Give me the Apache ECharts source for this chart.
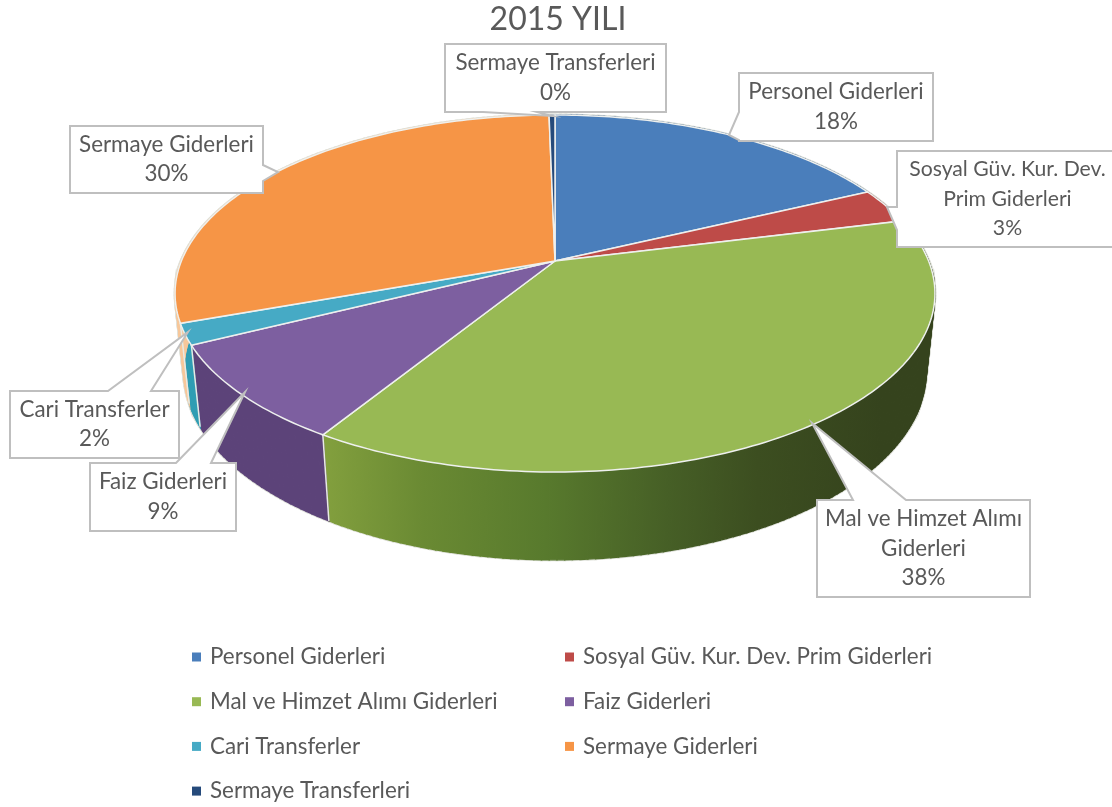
<!DOCTYPE html>
<html>
<head>
<meta charset="utf-8">
<title>2015 YILI</title>
<style>
  html, body { margin: 0; padding: 0; background: #fff; }
  #main { width: 1112px; height: 807px; }
</style>
<script src="https://cdn.jsdelivr.net/npm/echarts@6/dist/echarts.min.js"></script>
</head>
<body>
<div id="main"></div>
<script>
const categories = ['Personel Giderleri', 'Sosyal Güv. Kur. Dev. Prim Giderleri', 'Mal ve Himzet Alımı Giderleri', 'Faiz Giderleri', 'Cari Transferler', 'Sermaye Giderleri', 'Sermaye Transferleri']
const values = [17.9, 3.2, 37.7, 8.8, 1.9, 30.2, 0.3]
const labelNames = ['Personel Giderleri', 'Sosyal Güv. Kur. Dev.\nPrim Giderleri', 'Mal ve Himzet Alımı\nGiderleri', 'Faiz Giderleri', 'Cari Transferler', 'Sermaye Giderleri', 'Sermaye Transferleri']
const legendLeft = [categories[0], categories[2], categories[4], categories[6]]
const legendRight = [categories[1], categories[3], categories[5]]

const colors = ['#4a7ebb', '#be4b48', '#98b954', '#7d5fa0', '#46aac5', '#f69546', '#254a7b']
const wallStops = [
  [[0, '#2f5580'], [1, '#2f5580']],
  [[0, '#7a2f2d'], [1, '#7a2f2d']],
  [[0, '#83a03e'], [0.18, '#6a8a33'], [0.4, '#587a2d'], [0.62, '#465f26'], [0.78, '#3c4e20'], [1, '#35431d']],
  [[0, '#5c4379'], [0.5, '#654a87'], [1, '#5c4379']],
  [[0, '#2f9db3'], [1, '#1f8c99']],
  [[0, '#f7c79a'], [1, '#f7c79a']],
  [[0, '#1c3557'], [1, '#1c3557']]
]

// callout boxes: x, y, w, h and the wedge pointing at the slice
const boxes = [
  { x: 739, y: 73, w: 194, h: 68, wedge: [[739, 112], [729, 135], [739, 140]], side: 'left', size: 22.4 },
  { x: 897, y: 151, w: 221, h: 96, wedge: [[897, 207], [887, 207], [897, 230]], side: 'left', size: 21.2 },
  { x: 817, y: 500, w: 213, h: 97, wedge: [[853, 500], [812, 423], [906, 500]], side: 'top', size: 22.4 },
  { x: 90, y: 463, w: 146, h: 68, wedge: [[176, 463], [245, 392], [211, 463]], side: 'top', size: 22.4 },
  { x: 10, y: 391, w: 169, h: 67, wedge: [[108, 391], [188, 332], [151, 391]], side: 'top', size: 22.4 },
  { x: 70, y: 126, w: 193, h: 67, wedge: [[263, 165], [278, 172], [263, 181]], side: 'right', size: 22.4 },
  { x: 445, y: 44, w: 221, h: 68, wedge: [[483, 112], [552, 116], [537, 112]], side: 'bottom', size: 22.4 }
]

// perspective of the tilted disc, measured on the reference
const cx = 555, cy = 261, rx = 373.6, ry = 172.6, k = 0.182, depth = 78.6, depthW = 0.0226
const fontFamily = 'Lato'
const total = values.reduce((a, b) => a + b, 0)

function project (share, lower) {
  let a = share * Math.PI * 2
  let X = Math.sin(a)
  let Y = -Math.cos(a)
  let w = 1 - k * Y + (lower ? depthW : 0)
  return [cx + rx * X / w, cy + (ry * Y + (lower ? depth : 0)) / w]
}

function arc (from, to, lower) {
  let n = Math.max(2, Math.ceil((to - from) * 360))
  let pts = []
  for (let i = 0; i <= n; i++) {
    pts.push(project(from + (to - from) * i / n, lower))
  }
  return pts
}

function boxOutline (b) {
  let r = b.x + b.w, d = b.y + b.h
  let [p, q, s] = b.wedge
  if (b.side === 'left') return [[b.x, b.y], [r, b.y], [r, d], [b.x, d], s, q, p]
  if (b.side === 'top') return [[b.x, b.y], p, q, s, [r, b.y], [r, d], [b.x, d]]
  if (b.side === 'right') return [[b.x, b.y], [r, b.y], p, q, s, [r, d], [b.x, d]]
  return [[b.x, b.y], [r, b.y], [r, d], s, q, p, [b.x, d]]
}

function makeRenderItem (i) {
  return function (params, api) {
    let from = api.value(0)
    let to = api.value(1)
    let pct = Math.round((to - from) * 100) + '%'
    let top = arc(from, to, false)
    let low = arc(from, to, true)
    let b = boxes[i]
    let wallFill = new echarts.graphic.LinearGradient(322, 0, 880, 0, wallStops[i].map(s => ({ offset: s[0], color: s[1] })), true)
    let children = []
    // wall as single quads so the silhouette runs straight from top rim to bottom rim
    for (let j = 0; j < top.length - 1; j++) {
      let quad = [top[j], top[j + 1], low[j + 1], low[j]]
      children.push({ type: 'polygon', z2: 0, shape: { points: quad }, style: { fill: 'none', stroke: '#dfe1da', lineWidth: 3 } })
      children.push({ type: 'polygon', z2: 1, shape: { points: quad }, style: { fill: wallFill, stroke: wallFill, lineWidth: 1.4 } })
    }
    children.push({
      type: 'polyline',
      z2: 2,
      shape: { points: [top[0], low[0]] },
      style: { fill: 'none', stroke: '#e8eae4', lineWidth: 1.5 }
    })
    children.push({
      type: 'polygon',
      z2: 10,
      shape: { points: [[cx, cy]].concat(top) },
      style: { fill: colors[i], stroke: '#eef0ee', lineWidth: 1.5 }
    })
    children.push({
      type: 'polygon',
      z2: 20,
      shape: { points: boxOutline(b) },
      style: { fill: '#fff', stroke: '#bfbfbf', lineWidth: 2 }
    })
    children.push({
      type: 'text',
      z2: 21,
      style: {
        text: labelNames[i] + '\n' + pct,
        x: b.x + b.w / 2,
        y: b.y + b.h / 2,
        align: 'center',
        verticalAlign: 'middle',
        fontFamily: fontFamily,
        fontSize: b.size,
        lineHeight: 29.5,
        fill: '#595959'
      }
    })
    return { type: 'group', children: children }
  }
}

let running = 0
const series = categories.map((name, i) => {
  let from = running / total
  running += values[i]
  return {
    name: name,
    type: 'custom',
    coordinateSystem: 'none',
    clip: false,
    silent: true,
    itemStyle: { color: colors[i] },
    renderItem: makeRenderItem(i),
    data: [[from, running / total]]
  }
})

const legendBase = {
  orient: 'vertical',
  top: 641,
  height: 166,
  icon: 'rect',
  itemWidth: 9,
  itemHeight: 9,
  itemGap: 22.7,
  selectedMode: false,
  textStyle: { fontFamily: fontFamily, fontSize: 22.4, lineHeight: 22, color: '#595959', padding: [0, 0, 0, 4] }
}

let chart = echarts.init(document.getElementById('main'), null, { renderer: 'canvas' })
chart.setOption({
  animation: false,
  backgroundColor: '#fff',
  title: {
    text: '2015 YILI',
    left: 553,
    top: -1,
    textAlign: 'center',
    textStyle: { fontFamily: fontFamily, fontSize: 32, fontWeight: 'normal', color: '#595959' }
  },
  legend: [
    Object.assign({}, legendBase, { left: 187, data: legendLeft }),
    Object.assign({}, legendBase, { left: 560, data: legendRight })
  ],
  series: series
})
</script>
</body>
</html>
